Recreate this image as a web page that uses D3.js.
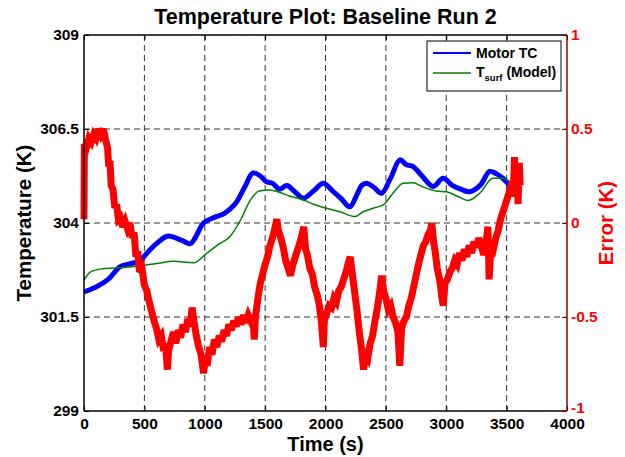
<!DOCTYPE html>
<html><head><meta charset="utf-8">
<script src="https://cdn.jsdelivr.net/npm/d3@7"></script>
<style>body{margin:0;background:#fff;} svg{display:block;font-family:"Liberation Sans",Arial,Helvetica,sans-serif;font-weight:bold;}</style>
</head><body>
<svg id="c" width="625" height="457"></svg>
<script>
// ---- data ----
const xTicks = [0,500,1000,1500,2000,2500,3000,3500,4000];
const tempTicks = [299,301.5,304,306.5,309];
const errTicks = [-1,-0.5,0,0.5,1];

const motorTime = [0,100,200,300,400,470,500,600,690,800,880,920,990,1080,1160,1250,1330,1400,1460,1510,1560,1620,1680,1740,1817,1900,1982,2060,2130,2200,2260,2300,2340,2400,2464,2540,2616,2670,2726,2800,2891,2974,3050,3120,3194,3280,3360,3420,3469,3540,3607];
const motorTemp = [302.17,302.3,302.5,302.84,302.93,303.0,303.12,303.45,303.65,303.55,303.45,303.6,304.0,304.15,304.25,304.5,304.95,305.33,305.25,305.1,305.06,304.9,305.0,304.85,304.66,304.85,305.06,304.85,304.65,304.43,304.75,305.0,305.06,304.95,304.79,305.2,305.68,305.55,305.5,305.25,304.97,305.19,305.0,304.9,304.83,305.0,305.37,305.3,305.19,304.95,304.74];

const modelTime = [0,54,150,246,440,600,742,908,1018,1100,1211,1300,1376,1450,1541,1624,1700,1817,1900,2010,2120,2244,2312,2400,2478,2560,2643,2726,2800,2919,3001,3100,3180,3277,3387,3469,3525];
const modelTemp = [302.48,302.7,302.78,302.8,302.85,302.92,302.98,302.94,303.2,303.4,303.65,304.1,304.6,304.85,304.88,304.81,304.72,304.61,304.5,304.39,304.3,304.17,304.3,304.4,304.48,304.8,305.06,305.07,304.97,304.85,304.83,304.7,304.6,304.79,305.19,305.19,305.1];

const errTime = [0,3,20,40,60,80,100,120,140,160,180,195,205,215,225,240,255,270,285,300,320,340,360,380,400,415,430,445,460,480,500,520,540,560,580,600,620,640,660,675,690,700,720,740,760,780,800,820,840,860,880,895,910,930,950,970,990,1005,1020,1040,1060,1080,1100,1120,1140,1160,1180,1200,1220,1240,1260,1280,1300,1320,1340,1360,1380,1400,1410,1420,1440,1460,1480,1500,1520,1540,1560,1580,1597,1610,1630,1650,1670,1690,1710,1730,1750,1770,1790,1810,1820,1835,1850,1870,1890,1910,1930,1950,1965,1982,1990,2010,2030,2050,2070,2090,2110,2130,2150,2170,2190,2205,2220,2240,2260,2280,2300,2315,2330,2350,2370,2390,2410,2430,2450,2465,2480,2500,2520,2540,2560,2580,2600,2615,2630,2650,2670,2690,2710,2730,2750,2770,2790,2810,2830,2850,2870,2880,2895,2910,2925,2945,2965,2975,2990,3010,3030,3050,3070,3090,3110,3130,3150,3170,3190,3210,3230,3250,3270,3290,3310,3330,3345,3355,3370,3390,3410,3430,3450,3470,3490,3510,3530,3545,3555,3565,3575,3585,3595,3605,3612];
const errVal = [0.02,0.42,0.40,0.45,0.43,0.47,0.45,0.50,0.47,0.50,0.44,0.40,0.30,0.33,0.20,0.18,0.08,0.10,0.02,0.03,-0.02,0.01,-0.03,0.0,-0.08,-0.05,-0.18,-0.15,-0.26,-0.24,-0.33,-0.36,-0.42,-0.47,-0.52,-0.56,-0.62,-0.60,-0.68,-0.64,-0.78,-0.68,-0.63,-0.58,-0.64,-0.57,-0.61,-0.54,-0.58,-0.51,-0.55,-0.45,-0.52,-0.60,-0.66,-0.70,-0.80,-0.72,-0.76,-0.66,-0.70,-0.62,-0.66,-0.60,-0.63,-0.57,-0.60,-0.54,-0.57,-0.52,-0.55,-0.50,-0.54,-0.49,-0.53,-0.49,-0.52,-0.50,-0.62,-0.50,-0.40,-0.32,-0.27,-0.22,-0.18,-0.12,-0.08,-0.03,0.02,-0.04,-0.08,-0.13,-0.20,-0.24,-0.28,-0.22,-0.18,-0.14,-0.10,-0.05,-0.02,-0.14,-0.17,-0.24,-0.27,-0.34,-0.38,-0.44,-0.52,-0.66,-0.52,-0.48,-0.44,-0.45,-0.40,-0.42,-0.36,-0.34,-0.30,-0.26,-0.21,-0.18,-0.26,-0.36,-0.46,-0.58,-0.68,-0.78,-0.70,-0.72,-0.64,-0.60,-0.52,-0.45,-0.36,-0.28,-0.36,-0.40,-0.46,-0.44,-0.50,-0.53,-0.58,-0.76,-0.56,-0.52,-0.50,-0.44,-0.40,-0.34,-0.28,-0.22,-0.17,-0.12,-0.10,-0.06,-0.04,0.00,-0.10,-0.16,-0.24,-0.30,-0.40,-0.44,-0.32,-0.30,-0.26,-0.24,-0.20,-0.22,-0.16,-0.20,-0.14,-0.18,-0.12,-0.16,-0.10,-0.13,-0.08,-0.12,-0.17,-0.10,-0.02,-0.30,-0.12,-0.14,-0.08,-0.04,0.02,0.06,0.10,0.14,0.18,0.22,0.14,0.35,0.18,0.30,0.10,0.32,0.20];

const legendLabels = ["Motor TC","T","surf"," (Model)"];

// ---- layout ----
const svg = d3.select("#c");
const L = 84, R = 567, T = 35, B = 411;
const x = d3.scaleLinear().domain([0,4000]).range([L,R]);
const yT = d3.scaleLinear().domain([299,309]).range([B,T]);
const yE = d3.scaleLinear().domain([-1,1]).range([B,T]);

// grid
const g = svg.append("g");
g.selectAll("line.gx").data(xTicks.slice(1,-1)).join("line")
  .attr("x1",d=>x(d)).attr("x2",d=>x(d)).attr("y1",T).attr("y2",B)
  .attr("stroke","#333").attr("stroke-width",1).attr("stroke-dasharray","6,4");
g.selectAll("line.gy").data(tempTicks.slice(1,-1)).join("line")
  .attr("x1",L).attr("x2",R).attr("y1",d=>yT(d)).attr("y2",d=>yT(d))
  .attr("stroke","#333").attr("stroke-width",1).attr("stroke-dasharray","6,4");

// lines
const motorLine = d3.line().x((d,i)=>x(motorTime[i])).y(d=>yT(d)).curve(d3.curveCatmullRom);
const modelLine = d3.line().x((d,i)=>x(modelTime[i])).y(d=>yT(d)).curve(d3.curveMonotoneX);
const errLine = d3.line().x((d,i)=>x(errTime[i])).y(d=>yE(d)).curve(d3.curveLinear);

svg.append("path").attr("d",motorLine(motorTemp)).attr("fill","none")
  .attr("stroke","#0000ff").attr("stroke-width",5).attr("stroke-linejoin","round");
svg.append("path").attr("d",modelLine(modelTemp)).attr("fill","none")
  .attr("stroke","#008000").attr("stroke-width",1.5);
svg.append("path").attr("d",errLine(errVal)).attr("fill","none")
  .attr("stroke","#ff0000").attr("stroke-width",7).attr("stroke-linejoin","miter").attr("stroke-miterlimit",3);

// axes
const axB = d3.axisBottom(x).tickValues(xTicks).tickSize(-5).tickPadding(7).tickFormat(d3.format("d"));
const axT = d3.axisTop(x).tickValues(xTicks).tickSize(-5).tickFormat("");
const axL = d3.axisLeft(yT).tickValues(tempTicks).tickSize(-5).tickPadding(5).tickFormat(d=>String(d));
const axR = d3.axisRight(yE).tickValues(errTicks).tickSize(-5).tickPadding(4).tickFormat(d=>String(d));

function style(sel,col,tcol){
  sel.select(".domain").attr("stroke",col).attr("stroke-width",1.5);
  sel.selectAll(".tick line").attr("stroke",col);
  sel.selectAll(".tick text").attr("fill",tcol).attr("font-size",15.5).attr("font-weight","bold")
     .attr("font-family","Liberation Sans, Arial, sans-serif");
}
const gB = svg.append("g").attr("transform",`translate(0,${B})`).call(axB); style(gB,"#000","#000");
const gT = svg.append("g").attr("transform",`translate(0,${T})`).call(axT); style(gT,"#000","#000");
const gL = svg.append("g").attr("transform",`translate(${L},0)`).call(axL); style(gL,"#000","#000");
const gR = svg.append("g").attr("transform",`translate(${R},0)`).call(axR); style(gR,"#990000","#ff0000");
gB.select(".domain").attr("d",`M${L},0H${R}`);
gT.select(".domain").attr("d",`M${L},0H${R}`);
gL.select(".domain").attr("d",`M0,${B}V${T}`);
gR.select(".domain").attr("d",`M0,${B}V${T}`);
gR.selectAll(".tick text").filter(d=>d===-1).attr("y",-3);

// titles
svg.append("text").attr("x",(L+R)/2).attr("y",24).attr("text-anchor","middle")
  .attr("font-size",21.5).attr("fill","#000").text("Temperature Plot: Baseline Run 2");
svg.append("text").attr("x",(L+R)/2).attr("y",451).attr("text-anchor","middle")
  .attr("font-size",20).attr("fill","#000").text("Time (s)");
svg.append("text").attr("transform",`translate(31,${(T+B)/2}) rotate(-90)`).attr("text-anchor","middle")
  .attr("font-size",20.5).attr("fill","#000").text("Temperature (K)");
svg.append("text").attr("transform",`translate(613,${(T+B)/2}) rotate(-90)`).attr("text-anchor","middle")
  .attr("font-size",20.5).attr("fill","#ff0000").text("Error (K)");

// legend
const lg = svg.append("g");
lg.append("rect").attr("x",427).attr("y",41).attr("width",134).attr("height",50)
  .attr("fill","#fff").attr("stroke","#000").attr("stroke-width",1);
lg.append("line").attr("x1",433).attr("x2",471).attr("y1",53).attr("y2",53).attr("stroke","#0000ff").attr("stroke-width",2);
lg.append("line").attr("x1",433).attr("x2",471).attr("y1",73).attr("y2",73).attr("stroke","#008000").attr("stroke-width",1.5);
lg.append("text").attr("x",476).attr("y",58).attr("font-size",14).text(legendLabels[0]);
const t2 = lg.append("text").attr("x",476).attr("y",77).attr("font-size",14);
t2.append("tspan").text(legendLabels[1]);
t2.append("tspan").attr("font-size",9.5).attr("dy",4).text(legendLabels[2]);
t2.append("tspan").attr("dy",-4).text(legendLabels[3]);
</script>
</body></html>
